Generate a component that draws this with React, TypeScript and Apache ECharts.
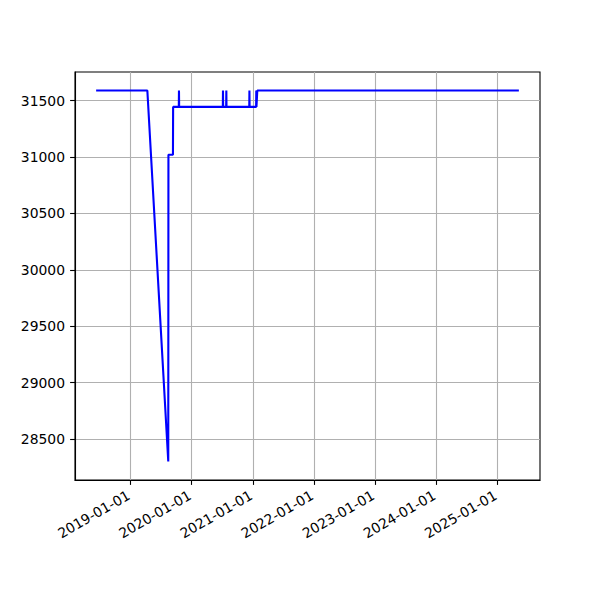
import React, { useEffect, useRef } from "react";
import * as echarts from "echarts";

// Data: [date, value]
const dates: string[] = [
  "2018-06-10", "2019-04-12", "2019-08-15", "2019-08-16", "2019-09-12", "2019-09-13",
  "2019-10-17", "2019-10-18", "2019-10-19",
  "2020-07-06", "2020-07-07", "2020-07-08",
  "2020-07-26", "2020-07-27", "2020-07-28",
  "2020-12-11", "2020-12-12", "2020-12-13",
  "2021-01-21", "2021-01-22", "2021-01-23", "2021-01-27", "2021-01-28",
  "2025-05-10",
];
const values: number[] = [
  31590, 31590, 28300, 31020, 31020, 31445,
  31445, 31590, 31445,
  31445, 31590, 31445,
  31445, 31590, 31445,
  31445, 31590, 31445,
  31445, 31590, 31445, 31445, 31590,
  31590,
];
const xTickLabels: string[] = [
  "2019-01-01", "2020-01-01", "2021-01-01", "2022-01-01", "2023-01-01", "2024-01-01", "2025-01-01",
];
const yTicks: number[] = [28500, 29000, 29500, 30000, 30500, 31000, 31500];

const toTs = (s: string) => {
  const [y, m, d] = s.split("-").map(Number);
  return Date.UTC(y, m - 1, d);
};
const pad = (n: number) => (n < 10 ? "0" + n : "" + n);
const fmt = (ts: number) => {
  const d = new Date(ts);
  return `${d.getUTCFullYear()}-${pad(d.getUTCMonth() + 1)}-${pad(d.getUTCDate())}`;
};

export default function App() {
  const ref = useRef<HTMLDivElement>(null);
  useEffect(() => {
    if (!ref.current) return;
    const chart = echarts.init(ref.current, undefined, { renderer: "svg" });
    const xs = dates.map(toTs);
    const xMinD = Math.min(...xs), xMaxD = Math.max(...xs);
    const xm = (xMaxD - xMinD) * 0.05;
    const yMinD = Math.min(...values), yMaxD = Math.max(...values);
    const ym = (yMaxD - yMinD) * 0.05;
    const xTicks = xTickLabels.map(toTs);
    const font = "DejaVu Sans";
    chart.setOption({
      animation: false,
      backgroundColor: "#ffffff",
      grid: {
        left: 75, right: 60, top: 72, bottom: 120,
        show: true, borderColor: "#000000", borderWidth: 1.1, backgroundColor: "transparent",
      },
      xAxis: {
        type: "value",
        min: xMinD - xm,
        max: xMaxD + xm,
        axisLine: { show: true, lineStyle: { color: "#000", width: 1.1 } },
        axisTick: { show: true, length: 4.9, inside: false, customValues: xTicks, lineStyle: { color: "#000", width: 1.1 } },
        axisLabel: {
          customValues: xTicks,
          rotate: 30,
          margin: 13,
          padding: [0, 2, 0, 0],
          color: "#000",
          fontFamily: font,
          fontSize: 13.9,
          formatter: (v: number) => fmt(v),
        },
        splitLine: { show: true, lineStyle: { color: "#b0b0b0", width: 1.1 } },
      },
      yAxis: {
        type: "value",
        min: yMinD - ym,
        max: yMaxD + ym,
        axisLine: { show: true, lineStyle: { color: "#000", width: 1.1 } },
        axisTick: { show: true, length: 4.9, inside: false, customValues: yTicks, lineStyle: { color: "#000", width: 1.1 } },
        axisLabel: {
          customValues: yTicks,
          margin: 10,
          color: "#000",
          fontFamily: font,
          fontSize: 13.9,
          formatter: (v: number) => String(v),
        },
        splitLine: { show: true, lineStyle: { color: "#b0b0b0", width: 1.1 } },
      },
      series: [
        {
          type: "line",
          data: xs.map((x, i) => [x, values[i]]),
          showSymbol: false,
          symbol: "none",
          lineStyle: { color: "#0000ff", width: 2.1 },
          itemStyle: { color: "#0000ff" },
        },
      ],
    });
    return () => chart.dispose();
  }, []);
  return <div ref={ref} style={{ width: 600, height: 600, margin: -8 }} />;
}
